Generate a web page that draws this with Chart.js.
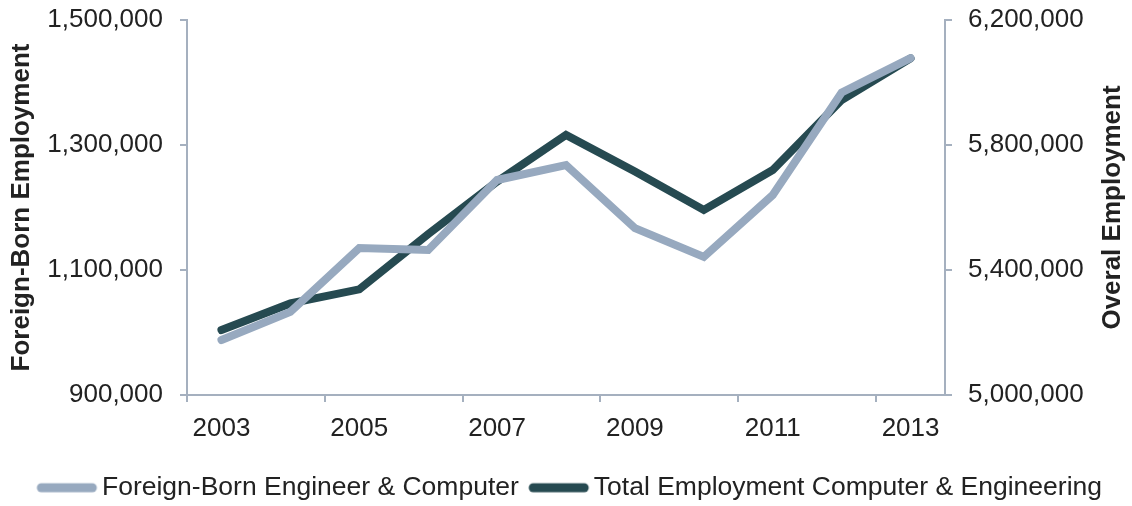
<!DOCTYPE html>
<html>
<head>
<meta charset="utf-8">
<script src="https://cdn.jsdelivr.net/npm/chart.js@4.4.1/dist/chart.umd.min.js"></script>
<style>
  html, body { margin: 0; padding: 0; background: #ffffff; }
  #wrap { width: 1132px; height: 506px; position: relative; }
</style>
</head>
<body>
<div id="wrap"><canvas id="c" width="1132" height="506"></canvas></div>
<script>
// ---- data ----
const years = ['2003','2004','2005','2006','2007','2008','2009','2010','2011','2012','2013'];
const foreignBorn = [988000, 1033000, 1135000, 1132000, 1244000, 1268000, 1167000, 1121000, 1220000, 1384000, 1439000];
const totalEmployment = [5208000, 5293000, 5338000, 5515000, 5683000, 5832000, 5715000, 5592000, 5720000, 5944000, 6077000];
const seriesNames = ['Foreign-Born Engineer & Computer', 'Total Employment Computer & Engineering'];
const leftTitle = 'Foreign-Born Employment';
const rightTitle = 'Overal Employment';

const LIGHT = '#97a9bf';
const DARK = '#264a51';
const AXIS = '#a5b0bf';
const TEXT = '#222222';
const FONT = "'Liberation Sans', Arial, sans-serif";

function makeSwatch(color) {
  const cv = document.createElement('canvas');
  cv.width = 80; cv.height = 12;
  const g = cv.getContext('2d');
  g.strokeStyle = color;
  g.lineWidth = 9;
  g.lineCap = 'round';
  g.beginPath();
  g.moveTo(22, 6);
  g.lineTo(73, 6);
  g.stroke();
  return cv;
}

const fmt = v => Number(v).toLocaleString('en-US');

function fixY(s) {
  s.width = 187;
  s.paddingTop = 13;
  s.paddingBottom = 13;
}

const rightTitlePlugin = {
  id: 'rightTitle',
  afterDraw(chart) {
    const ctx = chart.ctx;
    const a = chart.chartArea;
    ctx.save();
    ctx.translate(chart.width - 19, (a.top + a.bottom) / 2);
    ctx.rotate(-Math.PI / 2);
    ctx.font = "bold 26px " + FONT;
    ctx.fillStyle = TEXT;
    ctx.textAlign = 'center';
    ctx.textBaseline = 'middle';
    ctx.fillText(rightTitle, 0, 0);
    ctx.restore();
  }
};

new Chart(document.getElementById('c'), {
  type: 'line',
  data: {
    labels: years,
    datasets: [
      {
        label: seriesNames[0],
        data: foreignBorn,
        yAxisID: 'y',
        borderColor: LIGHT,
        backgroundColor: LIGHT,
        borderWidth: 8,
        borderCapStyle: 'round',
        borderJoinStyle: 'miter',
        pointRadius: 0,
        pointHoverRadius: 0,
        pointStyle: makeSwatch(LIGHT),
        tension: 0,
        fill: false
      },
      {
        label: seriesNames[1],
        data: totalEmployment,
        yAxisID: 'y1',
        borderColor: DARK,
        backgroundColor: DARK,
        borderWidth: 8,
        borderCapStyle: 'round',
        borderJoinStyle: 'miter',
        pointRadius: 0,
        pointHoverRadius: 0,
        pointStyle: makeSwatch(DARK),
        tension: 0,
        fill: false
      }
    ]
  },
  options: {
    responsive: false,
    animation: false,
    layout: { padding: { top: 20, left: 0, right: 0, bottom: -5 } },
    plugins: {
      tooltip: { enabled: false },
      legend: {
        position: 'bottom',
        labels: {
          usePointStyle: true,
          pointStyleWidth: 58.75,
          padding: 3,
          color: TEXT,
          font: { family: FONT, size: 26.5 }
        }
      }
    },
    scales: {
      x: {
        type: 'category',
        offset: true,
        afterFit(s) { s.height = 76.5; },
        border: { display: true, color: AXIS, width: 2 },
        grid: {
          offset: true,
          drawOnChartArea: false,
          drawTicks: true,
          tickLength: 7,
          lineWidth: 2,
          color: ctx => (ctx.index % 2 === 0 ? AXIS : 'rgba(0,0,0,0)')
        },
        ticks: {
          autoSkip: false,
          maxRotation: 0,
          padding: 11,
          color: TEXT,
          font: { family: FONT, size: 26 },
          callback: function (v, i) { return i % 2 === 0 ? this.getLabelForValue(v) : ''; }
        }
      },
      y: {
        position: 'left',
        min: 900000,
        max: 1500000,
        afterFit: fixY,
        border: { display: true, color: AXIS, width: 2 },
        grid: { drawOnChartArea: false, drawTicks: true, tickLength: 7, lineWidth: 2, color: AXIS },
        ticks: {
          stepSize: 200000,
          padding: 17,
          color: TEXT,
          font: { family: FONT, size: 26 },
          callback: v => fmt(v)
        },
        title: {
          display: true,
          text: leftTitle,
          color: TEXT,
          padding: { top: 6, bottom: 0 },
          font: { family: FONT, size: 26, weight: 'bold', lineHeight: 1.2 }
        }
      },
      y1: {
        position: 'right',
        min: 5000000,
        max: 6200000,
        afterFit: fixY,
        border: { display: true, color: AXIS, width: 2 },
        grid: { drawOnChartArea: false, drawTicks: true, tickLength: 7, lineWidth: 2, color: AXIS },
        ticks: {
          stepSize: 400000,
          padding: 16,
          color: TEXT,
          font: { family: FONT, size: 26 },
          callback: v => fmt(v)
        }
      }
    }
  },
  plugins: [rightTitlePlugin]
});
</script>
</body>
</html>
